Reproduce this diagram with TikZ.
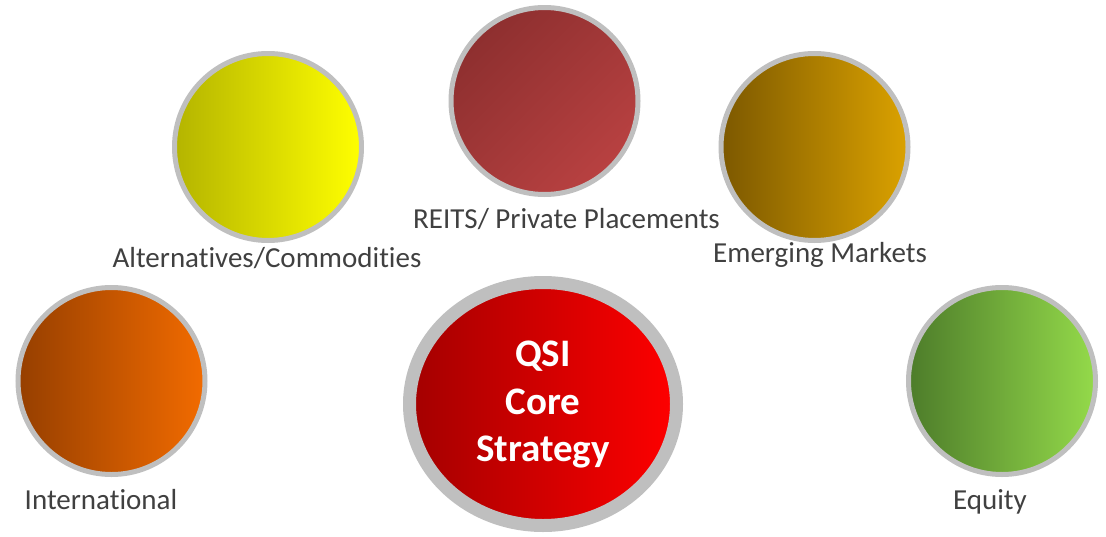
\documentclass[tikz,border=0pt]{standalone}
\usepackage{fontspec}
\setmainfont{Carlito}[Ligatures=CommonOff]
\usetikzlibrary{shapes.geometric,shadings}

\definecolor{ringgray}{HTML}{BFBFBF}
\definecolor{labelgray}{HTML}{404040}

\begin{document}
\begin{tikzpicture}[x=1pt, y=-1pt,
  bubble/.style={circle, draw=ringgray, line width=5pt, minimum size=187pt,
                 inner sep=0pt, outer sep=0pt},
  core/.style={ellipse, draw=ringgray, line width=13pt,
               minimum width=267pt, minimum height=243pt,
               inner sep=0pt, outer sep=0pt,
               left color=coreL, right color=coreR},
  caption/.style={anchor=base, text=labelgray, inner sep=0pt,
                  font=\fontsize{29}{33}\selectfont},
]
\definecolor{altL}{HTML}{B4B400}
\definecolor{altR}{HTML}{FFFF00}
\definecolor{reitL}{HTML}{852B2B}
\definecolor{reitM}{HTML}{A23838}
\definecolor{reitR}{HTML}{C24545}
\definecolor{emL}{HTML}{7C5800}
\definecolor{emR}{HTML}{DBA200}
\definecolor{intL}{HTML}{963F00}
\definecolor{intR}{HTML}{F26B00}
\definecolor{coreL}{HTML}{A30000}
\definecolor{coreR}{HTML}{FF0000}
\definecolor{eqL}{HTML}{4D7C2A}
\definecolor{eqR}{HTML}{94DA4A}

\useasboundingbox (0,0) rectangle (1106,536);

% outer ring of bubbles
\node[bubble, left color=altL, right color=altR] (alt) at (268,147) {};
\node[bubble, upper left=reitL, lower right=reitR,
      upper right=reitM, lower left=reitM] (reit) at (544.5,101) {};
\node[bubble, left color=emL, right color=emR] (em) at (814.5,147) {};
\node[bubble, left color=intL, right color=intR] (intl) at (111.5,381) {};
\node[bubble, left color=eqL, right color=eqR] (eq) at (1002,381) {};

% central strategy bubble
\node[core] (qsi) at (543,404) {};
\node[text=white, align=center, inner sep=0pt,
      font=\fontsize{39}{47.5}\selectfont\bfseries] (qsitext) at (543,405)
      {QSI\\Core\\Strategy};

% captions
\node[caption] (altlab)  at (267,267)   {Alternatives/Commodities};
\node[caption] (reitlab) at (566.5,228) {REITS/ Private Placements};
\node[caption] (emlab)   at (820,262)   {Emerging Markets};
\node[caption] (intlab)  at (101,509)   {International};
\node[caption] (eqlab)   at (990,509)   {Equity};
\end{tikzpicture}
\end{document}
